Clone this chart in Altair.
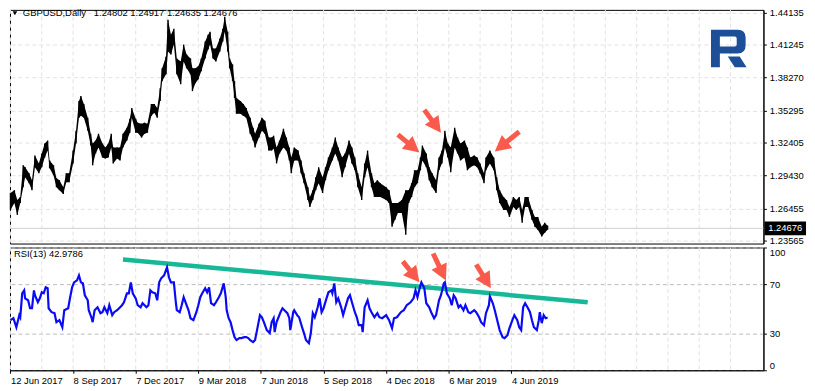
import math
import altair as alt
import pandas as pd

# ---------------- data ----------------
bar_index = [0,4,7,10,13,15,19,22,25,29,32,35,38,40,44,47,50,54,57,60,
64,67,70,72,75,79,82,84,87,90,94,97,100,103,105,109,112,115,119,122,
124,128,130,134,137,140,144,147,150,153,155,159,161,164,167,170,174,177,180,184,
186,189,192,195,199,202,204,207,210,214,217,219,222,224,227,229,231,235,238,241,
245,248,250,254,257,260,264,267,269,272,275,279,282,285,287,290,294,297,300,304,
306,309,312,315,319,322,325,329,332,335,339,342,346,349,352,355,359,362,365,369,
372,375,378,384,387,390,393,396,400,404,407,410,413,416,419,421,425,428,431,435,
438,441,444,447,450,454,457,460,464,467,470,474,477,480,484,486,490,494,497,500,
504,507,510,514,517,520,523,526,529,533,536,539,543,546,549]

bar_high = [1.2786,1.2812,1.2723,1.2750,1.3036,1.3018,1.2964,1.2902,1.3125,1.3053,1.3143,1.3232,1.3259,1.3080,1.3036,1.2919,1.2902,1.2839,1.2964,1.2964,
1.3169,1.3348,1.3616,1.3661,1.3589,1.3464,1.3321,1.3232,1.3259,1.3321,1.3232,1.3196,1.3232,1.3321,1.3196,1.3196,1.3196,1.3321,1.3375,1.3455,
1.3553,1.3455,1.3420,1.3411,1.3420,1.3411,1.3589,1.3589,1.3553,1.3732,1.3911,1.4018,1.4348,1.4214,1.4268,1.4000,1.3973,1.4125,1.4036,1.4000,
1.3911,1.3911,1.3929,1.4000,1.4152,1.4214,1.4241,1.4089,1.4089,1.4179,1.4268,1.4375,1.4241,1.4000,1.3946,1.3795,1.3643,1.3616,1.3589,1.3553,
1.3464,1.3375,1.3321,1.3411,1.3464,1.3437,1.3286,1.3286,1.3303,1.3196,1.3259,1.3366,1.3286,1.3196,1.3107,1.3196,1.3169,1.3080,1.2964,1.2839,
1.2750,1.2812,1.2928,1.3018,1.2928,1.3018,1.3107,1.3196,1.3286,1.3196,1.3107,1.3143,1.3259,1.3196,1.3107,1.2964,1.2839,1.3053,1.3169,1.2964,
1.2875,1.2902,1.2875,1.2839,1.2812,1.2696,1.2696,1.2696,1.2723,1.2812,1.2812,1.2875,1.2991,1.2991,1.3107,1.3214,1.3143,1.3018,1.2964,1.2902,
1.3107,1.3169,1.3348,1.3232,1.3196,1.3375,1.3286,1.3232,1.3259,1.3196,1.3107,1.3125,1.3107,1.3053,1.2964,1.3107,1.3169,1.3107,1.2928,1.2812,
1.2750,1.2723,1.2660,1.2750,1.2723,1.2750,1.2634,1.2750,1.2750,1.2634,1.2571,1.2571,1.2482,1.2518,1.2492]

bar_low = [1.2634,1.2696,1.2589,1.2696,1.2839,1.2928,1.2875,1.2812,1.3018,1.2964,1.3018,1.3107,1.3169,1.3009,1.2946,1.2839,1.2812,1.2777,1.2884,1.2884,
1.3053,1.3232,1.3464,1.3482,1.3464,1.3348,1.3214,1.3036,1.3143,1.3196,1.3107,1.3098,1.3107,1.3196,1.3053,1.3098,1.3080,1.3196,1.3259,1.3330,
1.3464,1.3330,1.3330,1.3286,1.3321,1.3330,1.3482,1.3509,1.3464,1.3616,1.3795,1.3857,1.4062,1.4036,1.4125,1.3857,1.3768,1.3973,1.3911,1.3857,
1.3705,1.3777,1.3812,1.3884,1.4000,1.4080,1.4125,1.4000,1.3973,1.4062,1.4152,1.4241,1.4062,1.3911,1.3795,1.3643,1.3500,1.3500,1.3482,1.3464,
1.3321,1.3259,1.3196,1.3286,1.3348,1.3321,1.3169,1.3169,1.3187,1.3053,1.3143,1.3196,1.3169,1.3080,1.2964,1.3080,1.3080,1.2964,1.2875,1.2723,
1.2660,1.2723,1.2812,1.2875,1.2786,1.2902,1.2991,1.3080,1.3143,1.3080,1.2928,1.3018,1.3143,1.3053,1.2991,1.2839,1.2723,1.2928,1.3018,1.2839,
1.2750,1.2750,1.2750,1.2723,1.2696,1.2482,1.2544,1.2607,1.2607,1.2410,1.2696,1.2750,1.2839,1.2875,1.2991,1.3080,1.3018,1.2902,1.2839,1.2786,
1.2991,1.3053,1.3196,1.3107,1.2973,1.3196,1.3143,1.3080,1.3107,1.2991,1.3018,1.3036,1.3018,1.2964,1.2875,1.2991,1.3053,1.2991,1.2812,1.2696,
1.2634,1.2634,1.2571,1.2660,1.2634,1.2660,1.2518,1.2660,1.2660,1.2544,1.2482,1.2455,1.2393,1.2428,1.2455]

rsi_index = [0,3,6,9,10,12,14,15,18,20,22,24,25,28,30,32,34,36,38,39,
42,45,47,50,53,55,59,61,63,65,68,70,72,74,76,79,80,83,84,86,
89,92,94,96,99,101,104,106,109,111,114,116,119,121,123,125,128,130,133,135,
139,141,143,145,148,150,152,154,157,160,162,164,167,169,170,173,175,177,180,182,
184,187,190,192,194,196,199,201,203,205,208,210,213,215,218,220,221,223,225,227,
229,231,234,236,239,241,243,245,248,250,252,255,257,259,262,265,267,269,270,272,
274,276,278,280,283,285,286,289,290,293,295,298,300,302,305,307,309,311,314,316,
318,320,323,325,328,329,331,333,335,338,340,342,345,347,349,352,354,356,359,360,
362,365,367,369,372,375,377,380,384,387,390,392,395,399,402,405,409,412,414,416,
419,420,423,425,428,430,433,435,438,440,443,444,446,449,451,453,455,458,460,463,
465,468,470,474,476,479,481,484,486,489,490,493,495,498,500,503,505,508,510,513,
515,518,520,522,524,526,529,531,533,535,538,540,541,543,545,547,549]

rsi_value = [40.8,42.4,35.1,44.9,43.2,62.7,65.1,58.6,57.0,50.5,50.5,65.1,61.1,55.4,58.6,63.5,62.7,67.6,66.8,50.5,
47.3,46.5,39.2,40.8,35.1,48.9,50.5,59.5,67.6,71.6,73.2,77.3,71.6,70.8,61.1,57.0,48.9,42.4,39.2,48.9,
51.3,46.5,47.3,51.3,46.5,53.0,44.9,47.3,48.9,50.5,53.0,55.4,62.7,62.7,71.6,62.7,58.6,53.0,51.3,54.6,
51.3,53.0,65.1,63.5,62.7,57.0,71.6,74.9,77.3,83.8,75.7,71.6,71.6,55.4,48.9,47.3,53.0,59.5,53.0,48.9,
42.4,40.8,47.3,53.0,59.5,62.7,66.8,63.5,67.6,54.6,53.0,55.4,59.5,62.7,70.8,59.5,48.9,42.4,39.2,32.7,
27.0,24.6,26.2,26.2,27.0,27.0,26.2,24.6,23.0,24.6,32.7,44.9,43.2,39.2,32.7,30.3,39.2,42.4,31.1,39.2,
43.2,47.3,50.5,48.9,46.5,42.4,32.7,47.3,48.9,44.9,43.2,35.1,30.3,24.6,22.1,30.3,46.5,43.2,51.3,58.6,
47.3,50.5,58.6,63.5,65.1,62.7,70.8,55.4,58.6,51.3,44.9,50.5,58.6,61.1,55.4,47.3,43.2,36.7,36.7,31.1,
51.3,57.0,50.5,47.3,43.2,46.5,43.2,42.4,44.9,40.8,34.3,42.4,43.2,47.3,48.9,53.0,55.4,58.6,65.1,59.5,
69.2,71.6,66.8,54.6,51.3,47.3,42.4,44.9,57.0,61.1,70.8,71.6,62.7,58.6,53.0,61.1,58.6,51.3,53.0,48.9,
53.0,47.3,46.5,48.9,47.3,43.2,39.2,36.7,46.5,53.0,60.3,54.6,48.9,39.2,32.7,27.0,26.2,28.6,34.3,40.8,
44.9,40.8,35.1,32.7,51.3,54.6,50.5,47.3,40.8,35.1,32.7,40.8,47.3,38.4,44.9,42.4,42.98]

assert len(bar_index) == len(bar_high) == len(bar_low)
assert len(rsi_index) == len(rsi_value)

price_ticks = [1.44135, 1.41245, 1.38270, 1.35295, 1.32405, 1.29430, 1.26455, 1.23565]
rsi_ticks = [0, 30, 70, 100]
date_tick_index = [0, 64, 128, 192, 256, 320, 384, 448, 512]
date_labels = ["12 Jun 2017", "8 Sep 2017", "7 Dec 2017", "9 Mar 2018", "7 Jun 2018",
               "5 Sep 2018", "4 Dec 2018", "6 Mar 2019", "4 Jun 2019"]
symbol_title = "GBPUSD,Daily"
ohlc_values = ["1.24802", "1.24917", "1.24635", "1.24676"]
last_close = 1.24676
rsi_title = "RSI(13) 42.9786"

trend_index = [115, 590]
trend_rsi = [90.3, 55.4]

price_arrow_tail_index = [396, 423, 520]
price_arrow_tail = [1.3312, 1.3536, 1.3339]
price_arrow_tip_index = [418, 440, 495]
price_arrow_tip = [1.3152, 1.3330, 1.3161]
rsi_arrow_tail_index = [401, 432, 476]
rsi_arrow_tail = [88.7, 95.1, 86.2]
rsi_arrow_tip_index = [418, 445, 491]
rsi_arrow_tip = [71.6, 73.2, 66.8]

# ---------------- layout / style ----------------
W, H1, H2 = 761, 236, 124
X_DOM = [-0.5, 769.6]
P_DOM = [1.23306, 1.44376]
R_DOM = [0, 100]
FONT = "Liberation Sans"
FS = 9.5
ARROW = "#F95A4B"
TEAL = "#17B897"
BLUE = "#0A0AF5"

kx = W / (X_DOM[1] - X_DOM[0])
kp = H1 / (P_DOM[1] - P_DOM[0])
kr = H2 / (R_DOM[1] - R_DOM[0])

xs = alt.Scale(domain=X_DOM, nice=False, zero=False)
ps = alt.Scale(domain=P_DOM, nice=False, zero=False)
rs = alt.Scale(domain=R_DOM, nice=False, zero=False)

price_axis = alt.Axis(orient="right", values=price_ticks, format=".5f", title=None,
                      grid=True, gridDash=[4, 3], gridColor="#E2E2E2",
                      tickSize=3, labelPadding=3, domainColor="black", tickColor="black")
rsi_axis = alt.Axis(orient="right", values=rsi_ticks, format="d", title=None,
                    grid=True, gridDash=[4, 3], gridColor="#BBBBBB", labelFlush=True,
                    tickSize=3, labelPadding=3, domainColor="black", tickColor="black")
label_expr = " : ".join(f"datum.value == {i} ? '{t}'" for i, t in zip(date_tick_index, date_labels)) + " : ''"
date_axis = alt.Axis(values=date_tick_index, labelExpr=label_expr, labelAlign="left",
                     title=None, grid=False, tickSize=3, labelPadding=2,
                     domainColor="black", tickColor="black", labelOverlap=False)

HEAD = "M0,-1L0.85,0.6L-0.85,0.6Z"
R_HEAD = 10


def arrow_frame(tail_i, tail_v, tip_i, tip_v, ky):
    rows = []
    for ti, tv, hi_, hv in zip(tail_i, tail_v, tip_i, tip_v):
        dx = (hi_ - ti) * kx
        dy = -(hv - tv) * ky
        L = math.hypot(dx, dy)
        ux, uy = dx / L, dy / L
        rows.append(dict(
            i=ti, v=tv,
            i2=hi_ - ux * 1.2 * R_HEAD / kx, v2=hv + uy * 1.2 * R_HEAD / ky,
            hc=hi_ - ux * R_HEAD / kx, hv=hv + uy * R_HEAD / ky,
            ang=(math.degrees(math.atan2(ux, -uy)) + 360) % 360))
    return pd.DataFrame(rows)


grid_df = pd.DataFrame({"i": list(range(0, 767, 32))})
bars = pd.DataFrame({"i": bar_index, "hi": bar_high, "lo": bar_low})
rsi_df = pd.DataFrame({"i": rsi_index, "r": rsi_value})
trend_df = pd.DataFrame({"i": [trend_index[0]], "r": [trend_rsi[0]],
                         "i2": [trend_index[1]], "r2": [trend_rsi[1]]})
pa = arrow_frame(price_arrow_tail_index, price_arrow_tail, price_arrow_tip_index, price_arrow_tip, kp)
ra = arrow_frame(rsi_arrow_tail_index, rsi_arrow_tail, rsi_arrow_tip_index, rsi_arrow_tip, kr)
last_df = pd.DataFrame({"p": [last_close], "t": [f"{last_close:.5f}"]})
one = pd.DataFrame({"k": [0]})

X0 = alt.X("i:Q", scale=xs, axis=None)

# ---------------- price panel ----------------
vgrid_p = alt.Chart(grid_df).mark_rule(color="#E2E2E2", strokeDash=[4, 3]).encode(x=X0)
bid = alt.Chart(last_df).mark_rule(color="#CFCFCF", strokeWidth=1).encode(
    y=alt.Y("p:Q", scale=ps, axis=price_axis))
area = alt.Chart(bars).mark_area(color="black", interpolate="linear").encode(
    x=X0, y=alt.Y("lo:Q", scale=ps, axis=price_axis), y2="hi:Q")
rules = alt.Chart(bars).mark_rule(color="black", strokeWidth=1.4).encode(
    x=X0, y=alt.Y("lo:Q", scale=ps, axis=price_axis), y2="hi:Q")
p_shaft = alt.Chart(pa).mark_rule(color=ARROW, strokeWidth=5, strokeCap="butt").encode(
    x=X0, y=alt.Y("v:Q", scale=ps, axis=price_axis), x2="i2:Q", y2="v2:Q")
p_head = alt.Chart(pa).mark_point(shape=HEAD, size=(2 * R_HEAD) ** 2, filled=True,
                                  color=ARROW, opacity=1, strokeWidth=0).encode(
    x=alt.X("hc:Q", scale=xs, axis=None), y=alt.Y("hv:Q", scale=ps, axis=price_axis),
    angle=alt.Angle("ang:Q", scale=None))
tri = alt.Chart(one).mark_point(shape="triangle-down", size=22, filled=True, color="black",
                                opacity=1, strokeWidth=0).encode(x=alt.value(5), y=alt.value(3.5))
title_txt = alt.Chart(one).mark_text(align="left", baseline="middle", font=FONT, fontSize=FS,
                                     color="black").encode(
    x=alt.value(13), y=alt.value(3.5),
    text=alt.value(symbol_title + "\u00a0\u00a0 " + " ".join(ohlc_values)))
LOGO = ("M-0.9,-0.9H0.45Q0.85,-0.9 0.85,-0.5V-0.1Q0.85,0.3 0.45,0.3H-0.45V1H-0.9Z"
        "M-0.45,-0.55V-0.05H0.3Q0.4,-0.05 0.4,-0.15V-0.45Q0.4,-0.55 0.3,-0.55Z"
        "M-0.05,0.45H0.55L0.9,1H0.3Z")
logo = alt.Chart(one).mark_point(shape=LOGO, size=1600, filled=True, color="#1D4F99",
                                 opacity=1, strokeWidth=0).encode(x=alt.value(726), y=alt.value(38))
box = alt.Chart(last_df).mark_point(shape="M-1.5,-0.5H1.5V0.5H-1.5Z", size=784, filled=True,
                                    color="black", opacity=1, strokeWidth=0).encode(
    x=alt.value(W + 22), y=alt.Y("p:Q", scale=ps, axis=price_axis))
box_txt = alt.Chart(last_df).mark_text(align="center", baseline="middle", font=FONT,
                                       fontSize=FS, color="white").encode(
    x=alt.value(W + 22), y=alt.Y("p:Q", scale=ps, axis=price_axis), text="t:N")

price_panel = alt.layer(vgrid_p, bid, area, rules, p_shaft, p_head, tri, title_txt, logo,
                        box, box_txt).properties(width=W, height=H1)

# ---------------- RSI panel ----------------
vgrid_r = alt.Chart(grid_df).mark_rule(color="#E2E2E2", strokeDash=[4, 3]).encode(
    x=alt.X("i:Q", scale=xs, axis=date_axis))
trend = alt.Chart(trend_df).mark_rule(color=TEAL, strokeWidth=4.5, strokeCap="butt").encode(
    x=alt.X("i:Q", scale=xs, axis=date_axis), y=alt.Y("r:Q", scale=rs, axis=rsi_axis),
    x2="i2:Q", y2="r2:Q")
rsi_line = alt.Chart(rsi_df).mark_line(color=BLUE, strokeWidth=2.2, interpolate="linear").encode(
    x=alt.X("i:Q", scale=xs, axis=date_axis), y=alt.Y("r:Q", scale=rs, axis=rsi_axis))
r_shaft = alt.Chart(ra).mark_rule(color=ARROW, strokeWidth=5, strokeCap="butt").encode(
    x=alt.X("i:Q", scale=xs, axis=date_axis), y=alt.Y("v:Q", scale=rs, axis=rsi_axis),
    x2="i2:Q", y2="v2:Q")
r_head = alt.Chart(ra).mark_point(shape=HEAD, size=(2 * R_HEAD) ** 2, filled=True,
                                  color=ARROW, opacity=1, strokeWidth=0).encode(
    x=alt.X("hc:Q", scale=xs, axis=date_axis), y=alt.Y("hv:Q", scale=rs, axis=rsi_axis),
    angle=alt.Angle("ang:Q", scale=None))
rsi_txt = alt.Chart(one).mark_text(align="left", baseline="middle", font=FONT, fontSize=FS,
                                   color="black").encode(
    x=alt.value(4), y=alt.value(7), text=alt.value(rsi_title))

rsi_panel = alt.layer(vgrid_r, trend, rsi_line, r_shaft, r_head, rsi_txt).properties(
    width=W, height=H2)

chart = alt.vconcat(price_panel, rsi_panel, spacing=0).properties(
    padding={"top": -3, "left": -3, "right": 0, "bottom": 0}, background="white"
).configure_view(stroke="black", strokeWidth=1).configure_axis(
    labelFont=FONT, labelFontSize=FS, labelColor="black"
)

chart.save("out.html", embed_options={"renderer": "svg", "actions": False})
